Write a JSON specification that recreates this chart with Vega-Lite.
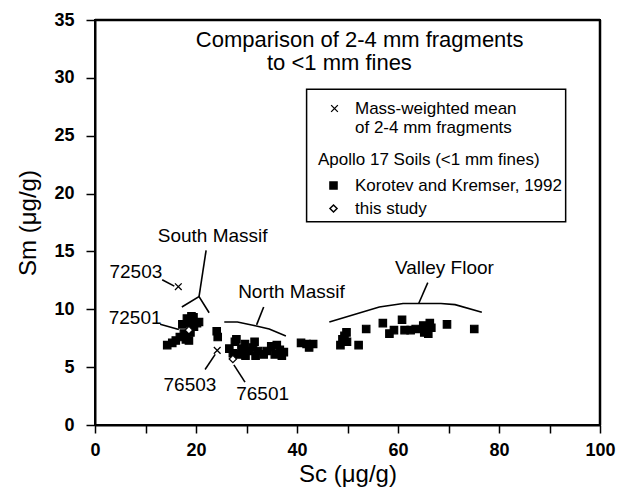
{
  "$schema": "https://vega.github.io/schema/vega-lite/v6.json",
  "width": 505,
  "height": 405,
  "autosize": {"type": "none"},
  "padding": {"left": 95, "top": 20, "right": 18, "bottom": 64},
  "config": {
    "font": "Liberation Sans",
    "view": {"stroke": "black", "strokeWidth": 2},
    "axis": {"grid": false, "domainColor": "black", "domainWidth": 2, "tickColor": "black", "tickWidth": 1.5, "labelColor": "black", "titleColor": "black", "labelFont": "Liberation Sans", "titleFont": "Liberation Sans", "labelFontWeight": "bold", "labelFontSize": 18, "titleFontSize": 24, "titleFontWeight": "normal", "labelOverlap": false, "labelFlush": false, "labelBound": false},
    "legend": {"labelFont": "Liberation Sans", "titleFont": "Liberation Sans", "labelFontSize": 17, "titleFontSize": 17, "titleFontWeight": "normal", "labelColor": "black", "titleColor": "black", "labelLimit": 0, "titleLimit": 0, "padding": 0}
  },
  "datasets": {
    "points": [
      {"Sc": 14.3, "Sm": 6.9, "source": "Korotev and Kremser, 1992"},
      {"Sc": 15.3, "Sm": 7.1, "source": "Korotev and Kremser, 1992"},
      {"Sc": 16.0, "Sm": 7.3, "source": "Korotev and Kremser, 1992"},
      {"Sc": 16.8, "Sm": 7.6, "source": "Korotev and Kremser, 1992"},
      {"Sc": 17.3, "Sm": 8.7, "source": "Korotev and Kremser, 1992"},
      {"Sc": 17.6, "Sm": 7.9, "source": "Korotev and Kremser, 1992"},
      {"Sc": 18.0, "Sm": 7.4, "source": "Korotev and Kremser, 1992"},
      {"Sc": 18.2, "Sm": 9.2, "source": "Korotev and Kremser, 1992"},
      {"Sc": 18.6, "Sm": 7.3, "source": "Korotev and Kremser, 1992"},
      {"Sc": 18.7, "Sm": 8.8, "source": "Korotev and Kremser, 1992"},
      {"Sc": 19.1, "Sm": 9.4, "source": "Korotev and Kremser, 1992"},
      {"Sc": 19.5, "Sm": 9.3, "source": "Korotev and Kremser, 1992"},
      {"Sc": 19.6, "Sm": 8.5, "source": "Korotev and Kremser, 1992"},
      {"Sc": 20.2, "Sm": 8.8, "source": "Korotev and Kremser, 1992"},
      {"Sc": 20.6, "Sm": 8.9, "source": "Korotev and Kremser, 1992"},
      {"Sc": 18.9, "Sm": 8.0, "source": "Korotev and Kremser, 1992"},
      {"Sc": 24.1, "Sm": 8.1, "source": "Korotev and Kremser, 1992"},
      {"Sc": 24.3, "Sm": 7.6, "source": "Korotev and Kremser, 1992"},
      {"Sc": 26.6, "Sm": 6.6, "source": "Korotev and Kremser, 1992"},
      {"Sc": 27.3, "Sm": 6.2, "source": "Korotev and Kremser, 1992"},
      {"Sc": 27.7, "Sm": 7.2, "source": "Korotev and Kremser, 1992"},
      {"Sc": 28.0, "Sm": 7.4, "source": "Korotev and Kremser, 1992"},
      {"Sc": 28.5, "Sm": 6.1, "source": "Korotev and Kremser, 1992"},
      {"Sc": 29.0, "Sm": 6.6, "source": "Korotev and Kremser, 1992"},
      {"Sc": 29.7, "Sm": 7.0, "source": "Korotev and Kremser, 1992"},
      {"Sc": 29.8, "Sm": 6.0, "source": "Korotev and Kremser, 1992"},
      {"Sc": 30.4, "Sm": 6.4, "source": "Korotev and Kremser, 1992"},
      {"Sc": 31.3, "Sm": 6.7, "source": "Korotev and Kremser, 1992"},
      {"Sc": 31.6, "Sm": 7.2, "source": "Korotev and Kremser, 1992"},
      {"Sc": 31.8, "Sm": 6.0, "source": "Korotev and Kremser, 1992"},
      {"Sc": 32.3, "Sm": 6.4, "source": "Korotev and Kremser, 1992"},
      {"Sc": 33.4, "Sm": 6.1, "source": "Korotev and Kremser, 1992"},
      {"Sc": 34.0, "Sm": 6.4, "source": "Korotev and Kremser, 1992"},
      {"Sc": 34.9, "Sm": 6.8, "source": "Korotev and Kremser, 1992"},
      {"Sc": 35.6, "Sm": 6.1, "source": "Korotev and Kremser, 1992"},
      {"Sc": 36.0, "Sm": 6.9, "source": "Korotev and Kremser, 1992"},
      {"Sc": 36.6, "Sm": 6.5, "source": "Korotev and Kremser, 1992"},
      {"Sc": 37.0, "Sm": 6.0, "source": "Korotev and Kremser, 1992"},
      {"Sc": 37.4, "Sm": 6.3, "source": "Korotev and Kremser, 1992"},
      {"Sc": 40.8, "Sm": 7.1, "source": "Korotev and Kremser, 1992"},
      {"Sc": 41.9, "Sm": 7.0, "source": "Korotev and Kremser, 1992"},
      {"Sc": 42.4, "Sm": 6.7, "source": "Korotev and Kremser, 1992"},
      {"Sc": 43.2, "Sm": 7.0, "source": "Korotev and Kremser, 1992"},
      {"Sc": 48.6, "Sm": 6.9, "source": "Korotev and Kremser, 1992"},
      {"Sc": 49.0, "Sm": 7.4, "source": "Korotev and Kremser, 1992"},
      {"Sc": 49.4, "Sm": 7.7, "source": "Korotev and Kremser, 1992"},
      {"Sc": 49.8, "Sm": 8.0, "source": "Korotev and Kremser, 1992"},
      {"Sc": 49.9, "Sm": 7.2, "source": "Korotev and Kremser, 1992"},
      {"Sc": 52.2, "Sm": 6.9, "source": "Korotev and Kremser, 1992"},
      {"Sc": 53.7, "Sm": 8.3, "source": "Korotev and Kremser, 1992"},
      {"Sc": 57.0, "Sm": 8.8, "source": "Korotev and Kremser, 1992"},
      {"Sc": 58.3, "Sm": 7.9, "source": "Korotev and Kremser, 1992"},
      {"Sc": 59.2, "Sm": 8.2, "source": "Korotev and Kremser, 1992"},
      {"Sc": 60.8, "Sm": 9.1, "source": "Korotev and Kremser, 1992"},
      {"Sc": 61.3, "Sm": 8.2, "source": "Korotev and Kremser, 1992"},
      {"Sc": 62.5, "Sm": 8.2, "source": "Korotev and Kremser, 1992"},
      {"Sc": 63.5, "Sm": 8.3, "source": "Korotev and Kremser, 1992"},
      {"Sc": 65.0, "Sm": 8.6, "source": "Korotev and Kremser, 1992"},
      {"Sc": 65.2, "Sm": 8.0, "source": "Korotev and Kremser, 1992"},
      {"Sc": 66.0, "Sm": 7.9, "source": "Korotev and Kremser, 1992"},
      {"Sc": 66.3, "Sm": 8.8, "source": "Korotev and Kremser, 1992"},
      {"Sc": 66.6, "Sm": 8.4, "source": "Korotev and Kremser, 1992"},
      {"Sc": 69.7, "Sm": 8.7, "source": "Korotev and Kremser, 1992"},
      {"Sc": 75.1, "Sm": 8.3, "source": "Korotev and Kremser, 1992"},
      {"Sc": 18.6, "Sm": 8.2, "source": "this study", "sample": "72501"},
      {"Sc": 27.3, "Sm": 5.7, "source": "this study", "sample": "76501"},
      {"Sc": 16.5, "Sm": 11.95, "source": "Mass-weighted mean of 2-4 mm fragments", "sample": "72503"},
      {"Sc": 24.2, "Sm": 6.45, "source": "Mass-weighted mean of 2-4 mm fragments", "sample": "76503"}
    ],
    "labels": [
      {"text": "Comparison of 2-4 mm fragments", "Sc": 52.4, "Sm": 33.3, "kind": "title"},
      {"text": "to <1 mm fines", "Sc": 48.4, "Sm": 31.27, "kind": "title"},
      {"text": "South Massif", "Sc": 23.3, "Sm": 16.35, "kind": "note"},
      {"text": "North Massif", "Sc": 38.9, "Sm": 11.46, "kind": "note"},
      {"text": "Valley Floor", "Sc": 69.2, "Sm": 13.6, "kind": "note"},
      {"text": "72503", "Sc": 8.1, "Sm": 13.18, "kind": "note"},
      {"text": "72501", "Sc": 7.95, "Sm": 9.21, "kind": "note"},
      {"text": "76503", "Sc": 18.8, "Sm": 3.5, "kind": "note"},
      {"text": "76501", "Sc": 33.2, "Sm": 2.7, "kind": "note"}
    ],
    "lines": [
      {"g": "south_arm", "i": 1, "Sc": 17.2, "Sm": 10.2},
      {"g": "south_arm", "i": 2, "Sc": 20.6, "Sm": 11.1},
      {"g": "south_arm", "i": 3, "Sc": 22.6, "Sm": 9.7},
      {"g": "south_stem", "i": 1, "Sc": 20.6, "Sm": 11.1},
      {"g": "south_stem", "i": 2, "Sc": 22.0, "Sm": 15.1},
      {"g": "north_arm", "i": 1, "Sc": 25.6, "Sm": 8.9},
      {"g": "north_arm", "i": 2, "Sc": 28.2, "Sm": 8.9},
      {"g": "north_arm", "i": 3, "Sc": 31.5, "Sm": 8.6},
      {"g": "north_arm", "i": 4, "Sc": 34.5, "Sm": 8.3},
      {"g": "north_arm", "i": 5, "Sc": 37.8, "Sm": 7.7},
      {"g": "north_stem", "i": 1, "Sc": 32.0, "Sm": 8.65},
      {"g": "north_stem", "i": 2, "Sc": 33.4, "Sm": 10.2},
      {"g": "valley_arm", "i": 1, "Sc": 46.4, "Sm": 8.9},
      {"g": "valley_arm", "i": 2, "Sc": 56.3, "Sm": 10.2},
      {"g": "valley_arm", "i": 3, "Sc": 61.0, "Sm": 10.5},
      {"g": "valley_arm", "i": 4, "Sc": 68.5, "Sm": 10.5},
      {"g": "valley_arm", "i": 5, "Sc": 71.3, "Sm": 10.4},
      {"g": "valley_arm", "i": 6, "Sc": 76.6, "Sm": 9.75},
      {"g": "valley_stem", "i": 1, "Sc": 64.1, "Sm": 10.5},
      {"g": "valley_stem", "i": 2, "Sc": 65.9, "Sm": 12.3},
      {"g": "l72503", "i": 1, "Sc": 13.3, "Sm": 12.55},
      {"g": "l72503", "i": 2, "Sc": 15.7, "Sm": 12.0},
      {"g": "l72501", "i": 1, "Sc": 12.9, "Sm": 8.7},
      {"g": "l72501", "i": 2, "Sc": 16.6, "Sm": 8.25},
      {"g": "l76503", "i": 1, "Sc": 21.8, "Sm": 4.8},
      {"g": "l76503", "i": 2, "Sc": 23.8, "Sm": 6.1},
      {"g": "l76501", "i": 1, "Sc": 27.5, "Sm": 5.2},
      {"g": "l76501", "i": 2, "Sc": 29.7, "Sm": 3.7}
    ]
  },
  "layer": [
    {
      "data": {"name": "lines"},
      "mark": {"type": "line", "color": "black", "strokeWidth": 1.6},
      "encoding": {
        "x": {"field": "Sc", "type": "quantitative", "scale": {"domain": [0, 100], "nice": false},
          "axis": {"values": [0, 10, 20, 30, 40, 50, 60, 70, 80, 90, 100], "labelExpr": "datum.value % 20 === 0 ? datum.label : ''", "tickSize": 8, "labelPadding": 8, "title": "Sc (μg/g)", "titlePadding": 3}},
        "y": {"field": "Sm", "type": "quantitative", "scale": {"domain": [0, 35], "nice": false},
          "axis": {"values": [0, 5, 10, 15, 20, 25, 30, 35], "tickSize": 9, "labelPadding": 12, "title": "Sm (μg/g)", "titlePadding": 13}},
        "detail": {"field": "g"},
        "order": {"field": "i", "type": "quantitative"}
      }
    },
    {
      "data": {"values": [{"edge": "top", "Sm": 35}]},
      "mark": {"type": "rule", "color": "black", "strokeWidth": 2.5},
      "encoding": {"y": {"field": "Sm", "type": "quantitative"}}
    },
    {
      "data": {"values": [{"edge": "right", "Sc": 100}]},
      "mark": {"type": "rule", "color": "black", "strokeWidth": 2.5},
      "encoding": {"x": {"field": "Sc", "type": "quantitative"}}
    },
    {
      "data": {"values": [{}]},
      "mark": {"type": "rect", "filled": false, "stroke": "black", "strokeWidth": 1.5},
      "encoding": {
        "x": {"datum": 41.9, "type": "quantitative"},
        "x2": {"datum": 93.2},
        "y": {"datum": 29.02, "type": "quantitative"},
        "y2": {"datum": 17.56}
      }
    },
    {
      "data": {"name": "points"},
      "transform": [{"filter": "datum.source === 'Mass-weighted mean of 2-4 mm fragments'"}],
      "mark": {"type": "point", "filled": false, "stroke": "black", "strokeWidth": 1.3, "size": 45, "opacity": 1},
      "encoding": {
        "x": {"field": "Sc", "type": "quantitative"},
        "y": {"field": "Sm", "type": "quantitative"},
        "shape": {"field": "source", "type": "nominal",
          "scale": {"domain": ["Mass-weighted mean of 2-4 mm fragments"], "range": ["M-1,-1L1,1M1,-1L-1,1"]},
          "legend": {"title": null, "orient": "none", "legendX": 231, "legendY": 80, "labelExpr": "['Mass-weighted mean', 'of 2-4 mm fragments']", "labelOffset": 12, "symbolStrokeColor": "black", "symbolFillColor": "transparent", "symbolSize": 45, "symbolStrokeWidth": 1.3}}
      }
    },
    {
      "data": {"name": "points"},
      "transform": [{"filter": "datum.source !== 'Mass-weighted mean of 2-4 mm fragments'"}],
      "mark": {"type": "point", "filled": true, "stroke": "black", "strokeWidth": 1.2, "size": 55, "opacity": 1},
      "encoding": {
        "x": {"field": "Sc", "type": "quantitative"},
        "y": {"field": "Sm", "type": "quantitative"},
        "shape": {"field": "source", "type": "nominal",
          "scale": {"domain": ["Korotev and Kremser, 1992", "this study"], "range": ["square", "diamond"]},
          "legend": {"title": "Apollo 17 Soils (<1 mm fines)", "orient": "none", "legendX": 223, "legendY": 132, "symbolOffset": 7, "labelOffset": 13, "titlePadding": 8, "rowPadding": 5, "symbolSize": 50,
            "encode": {"symbols": {"update": {"stroke": {"value": "black"}, "strokeWidth": {"value": 1.2}}}}}},
        "fill": {"field": "source", "type": "nominal",
          "scale": {"domain": ["Korotev and Kremser, 1992", "this study"], "range": ["black", "white"]},
          "legend": {"title": "Apollo 17 Soils (<1 mm fines)", "orient": "none", "legendX": 223, "legendY": 132, "symbolOffset": 7, "labelOffset": 13, "titlePadding": 8, "rowPadding": 5, "symbolSize": 50,
            "encode": {"symbols": {"update": {"stroke": {"value": "black"}, "strokeWidth": {"value": 1.2}}}}}}
      }
    },
    {
      "data": {"name": "labels"},
      "transform": [{"filter": "datum.kind === 'title'"}],
      "mark": {"type": "text", "fontSize": 22, "color": "black", "align": "center", "baseline": "middle"},
      "encoding": {
        "x": {"field": "Sc", "type": "quantitative"},
        "y": {"field": "Sm", "type": "quantitative"},
        "text": {"field": "text"}
      }
    },
    {
      "data": {"name": "labels"},
      "transform": [{"filter": "datum.kind === 'note'"}],
      "mark": {"type": "text", "fontSize": 19, "color": "black", "align": "center", "baseline": "middle"},
      "encoding": {
        "x": {"field": "Sc", "type": "quantitative"},
        "y": {"field": "Sm", "type": "quantitative"},
        "text": {"field": "text"}
      }
    }
  ],
  "resolve": {"scale": {"shape": "independent", "fill": "independent"}, "legend": {"shape": "independent", "fill": "independent"}}
}
